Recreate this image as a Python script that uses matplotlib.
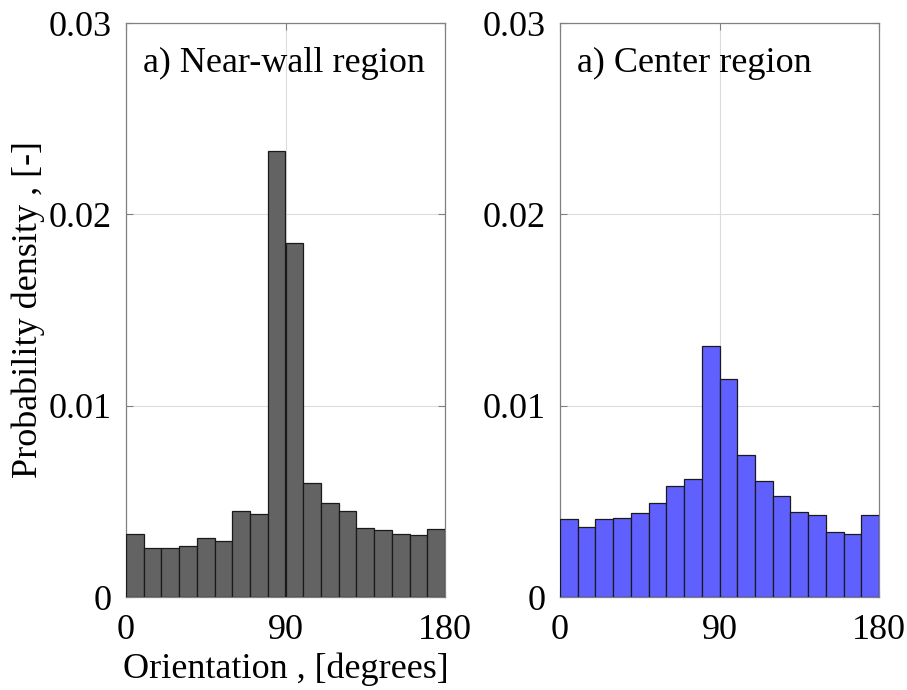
import numpy as np
import matplotlib.pyplot as plt

plt.rcParams['font.family'] = ['Liberation Serif', 'DejaVu Serif']

# bin edges (degrees) and densities
edges = np.arange(0, 181, 10)
near_wall = [0.0033, 0.00256, 0.00256, 0.00269, 0.00307, 0.00291, 0.00452, 0.00433, 0.02331,
             0.0185, 0.00596, 0.00492, 0.0045, 0.00359, 0.00349, 0.0033, 0.00326, 0.00358]
center = [0.00406, 0.00366, 0.00406, 0.00411, 0.00437, 0.0049, 0.00582, 0.00617, 0.0131,
          0.0114, 0.0074, 0.00605, 0.00528, 0.00444, 0.00428, 0.00338, 0.00331, 0.00428]
titles = ["a) Near-wall region", "a) Center region"]
colors = ["#636363", "#6060ff"]

W, H = 907, 690
fig = plt.figure(figsize=(W / 100, H / 100), dpi=100)
ax1 = fig.add_axes([126 / W, 1 - 597 / H, 319 / W, 574 / H])
ax2 = fig.add_axes([560 / W, 1 - 597 / H, 319 / W, 574 / H])

fs = 26
for ax, vals, title, col in zip([ax1, ax2], [near_wall, center], titles, colors):
    ax.bar(edges[:-1], vals, width=10, align='edge', color=col,
           edgecolor='#1a1a1a', linewidth=0.9, zorder=3)
    ax.set_xlim(0, 180)
    ax.set_ylim(0, 0.03)
    ax.set_xticks([0, 90, 180])
    ax.set_yticks([0, 0.01, 0.02, 0.03])
    ax.set_yticklabels(["0", "0.01", "0.02", "0.03"])
    ax.grid(True, color='#dcdcdc', linewidth=0.8, zorder=0)
    ax.tick_params(direction='in', top=True, right=True, labelsize=fs,
                   length=5, color='#808080')
    ax.tick_params(axis='y', pad=10)
    ax.tick_params(axis='x', pad=12)
    for s in ax.spines.values():
        s.set_color('#808080')
        s.set_linewidth(0.9)
    ax.text(0.053, 0.915, title, transform=ax.transAxes, fontsize=fs,
            va='baseline', ha='left', zorder=5)

ax1.set_ylabel("Probability density , [-]", fontsize=fs, labelpad=3)
ax1.set_xlabel("Orientation , [degrees]", fontsize=fs, labelpad=4)

plt.savefig("out.png", dpi=100)
